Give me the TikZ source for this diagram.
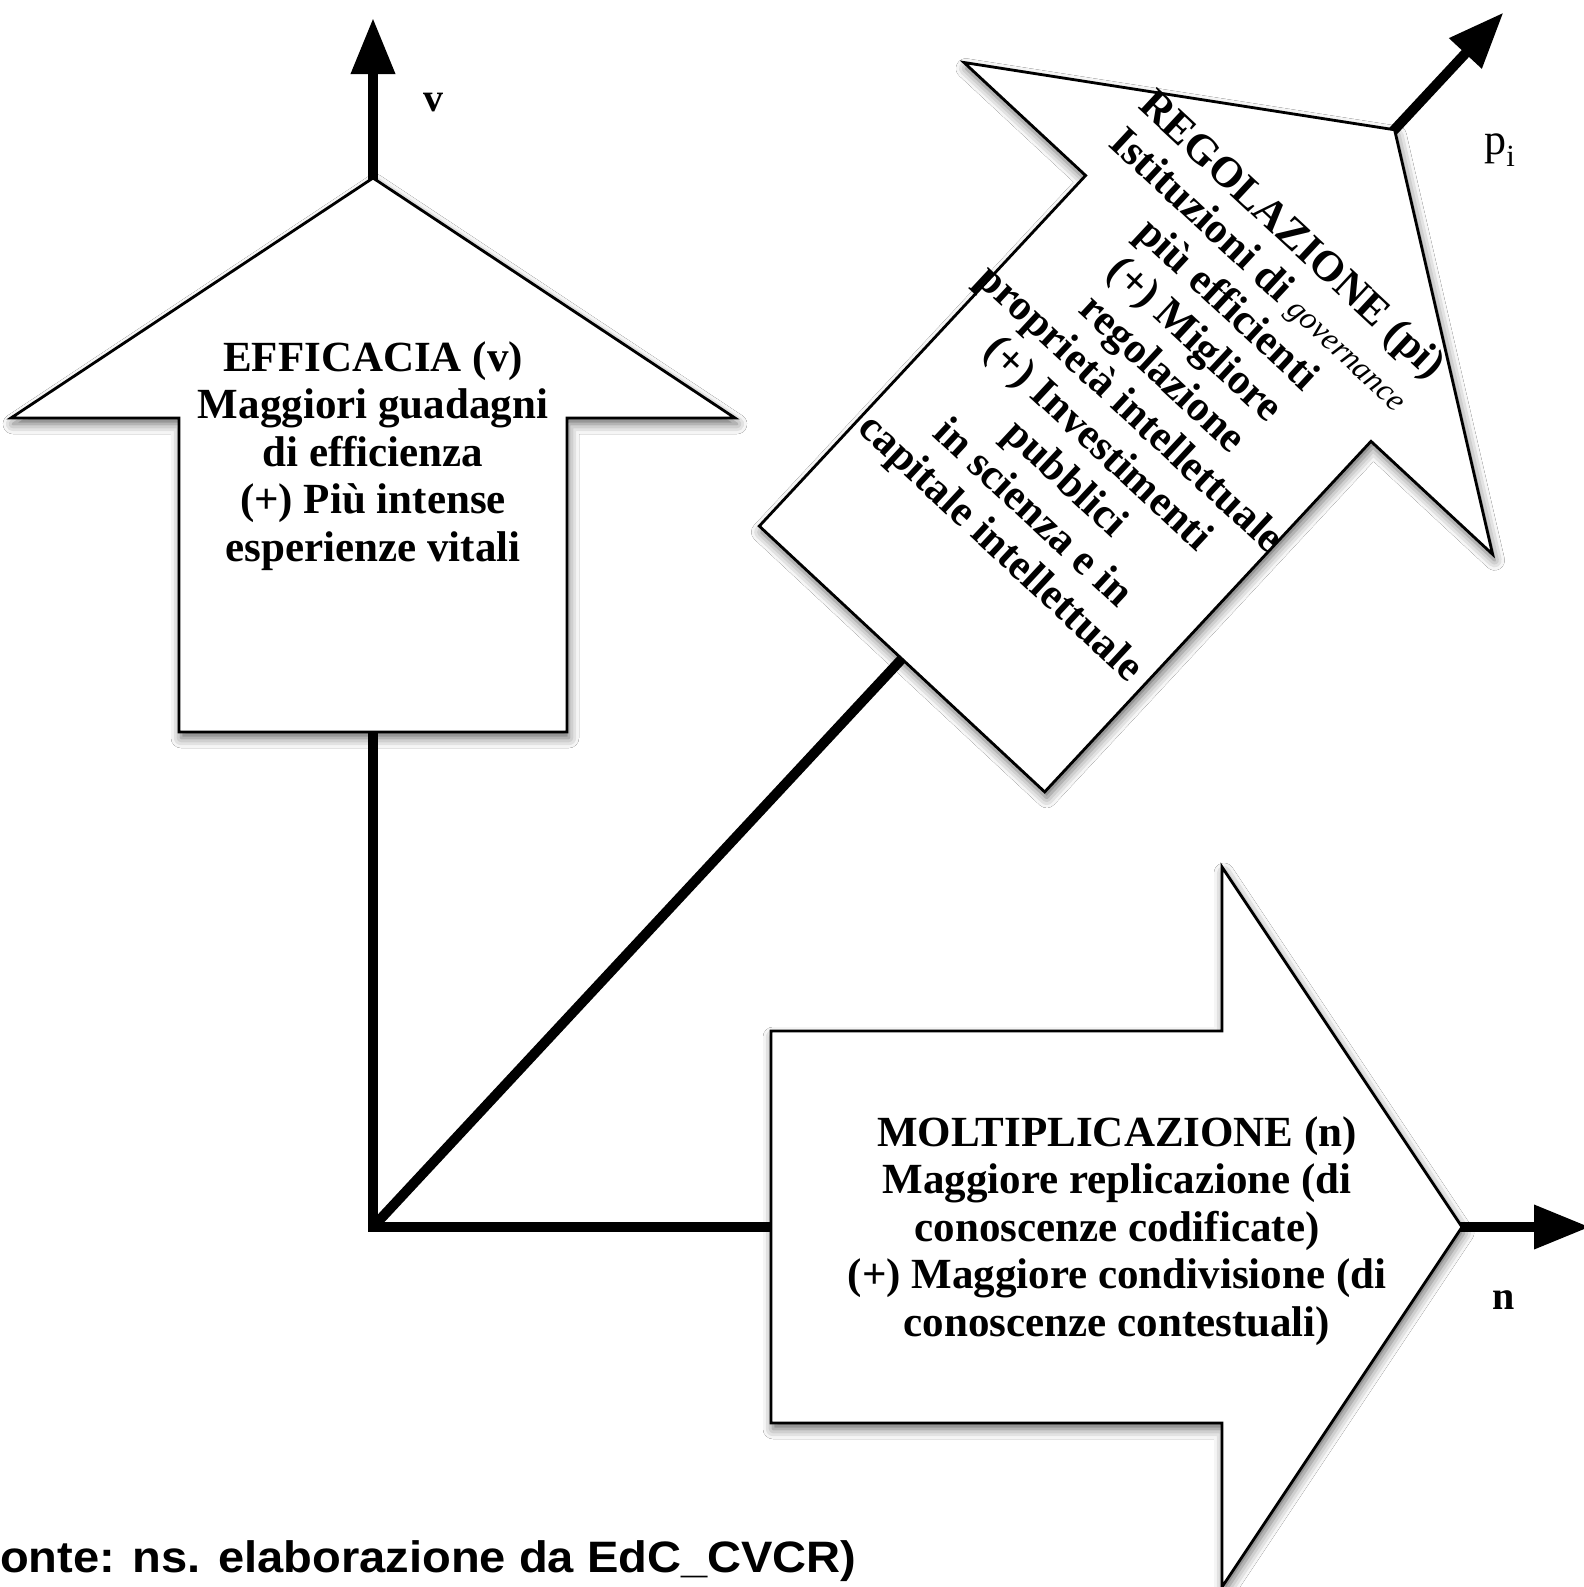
\documentclass[tikz,border=0pt]{standalone}
\usepackage{fontspec}
\setmainfont{Liberation Serif}
\newfontfamily\capfont{Liberation Sans}
\usetikzlibrary{arrows.meta,shadows.blur}

\begin{document}
\begin{tikzpicture}[x=1pt,y=-1pt,
  arrowshape/.style={draw=black, line width=2.8pt, fill=white, line join=miter,
    blur shadow={shadow xshift=2pt, shadow yshift=-6pt, shadow blur radius=10pt, shadow opacity=60}},
  axisline/.style={line width=10pt},
  axistip/.tip={Triangle[length=56pt,width=42pt]},
  bodytext/.style={align=center, inner sep=0pt,
    font=\fontsize{43}{47.5}\selectfont\bfseries},
  axislabel/.style={inner sep=2pt, font=\fontsize{40}{40}\selectfont\bfseries},
]
\useasboundingbox (0,0) rectangle (1584,1587);
\clip (0,0) rectangle (1584,1587);
\fill[white] (0,0) rectangle (1584,1587);

% origin and axis end points
\coordinate (O) at (373,1227);
\coordinate (vEnd) at (373,18);
\coordinate (nEnd) at (1590,1227);
\coordinate (pEnd) at (1503.5,12.5);

% axes v and n as one bent line, p_i on the diagonal
\draw[axisline, axistip-axistip] (vEnd) -- (O) -- (nEnd);
\draw[axisline, -axistip] (O) -- (pEnd);

% EFFICACIA (v): upward block arrow
\coordinate (eA) at (179,732);
\coordinate (eB) at (179,418);
\coordinate (eC) at (11,418);
\coordinate (eTip) at (373,178);
\coordinate (eD) at (735,418);
\coordinate (eE) at (567,418);
\coordinate (eF) at (567,732);
\draw[arrowshape] (eA) -- (eB) -- (eC) -- (eTip) -- (eD) -- (eE) -- (eF) -- cycle;

% MOLTIPLICAZIONE (n): rightward block arrow
\coordinate (mA) at (771,1031);
\coordinate (mB) at (1222,1031);
\coordinate (mC) at (1222,867);
\coordinate (mTip) at (1462,1227);
\coordinate (mD) at (1222,1587);
\coordinate (mE) at (1222,1423);
\coordinate (mF) at (771,1423);
\draw[arrowshape] (mA) -- (mB) -- (mC) -- (mTip) -- (mD) -- (mE) -- (mF) -- cycle;

% REGOLAZIONE (pi): diagonal block arrow
\coordinate (rA) at (759.3,526.1);
\coordinate (rB) at (1085.6,175.5);
\coordinate (rC) at (964,62.5);
\coordinate (rTip) at (1394.6,129.8);
\coordinate (rD) at (1492.6,554.3);
\coordinate (rE) at (1371,441.3);
\coordinate (rF) at (1044.7,791.9);
\draw[arrowshape] (rA) -- (rB) -- (rC) -- (rTip) -- (rD) -- (rE) -- (rF) -- cycle;

% texts in the block arrows
\node[bodytext] (efficacia) at (373,456)
  {EFFICACIA (v)\\
   Maggiori guadagni\\di efficienza\\(+) Più intense\\esperienze vitali};

\node[bodytext] (moltiplicazione) at (1117,1231)
  {MOLTIPLICAZIONE (n)\\
   Maggiore replicazione (di\\conoscenze codificate)\\
   (+) Maggiore condivisione (di\\conoscenze contestuali)};

\node[bodytext, rotate=-42.93] (regolazione) at (1145,393)
  {REGOLAZIONE (pi)\\
   Istituzioni di {\mdseries\itshape\fontsize{32}{32}\selectfont governance}\\
   più efficienti\\(+) Migliore\\regolazione\\proprietà intellettuale\\
   (+) Investimenti\\pubblici\\in scienza e in\\capitale intellettuale};

% axis labels
\node[axislabel] (vlab) at (433,103) {v};
\node[axislabel] (nlab) at (1504,1300) {n};
\node[axislabel, font=\fontsize{44}{44}\selectfont\mdseries] (plab) at (1500,150)
  {p\textsubscript{i}};

% source note
\node[anchor=base west, inner sep=0pt, xscale=1.07,
  font=\capfont\bfseries\fontsize{44}{44}\selectfont] (fonte) at (0,1572)
  {onte: ns. elaborazione da EdC\_CVCR)};
\end{tikzpicture}
\end{document}
